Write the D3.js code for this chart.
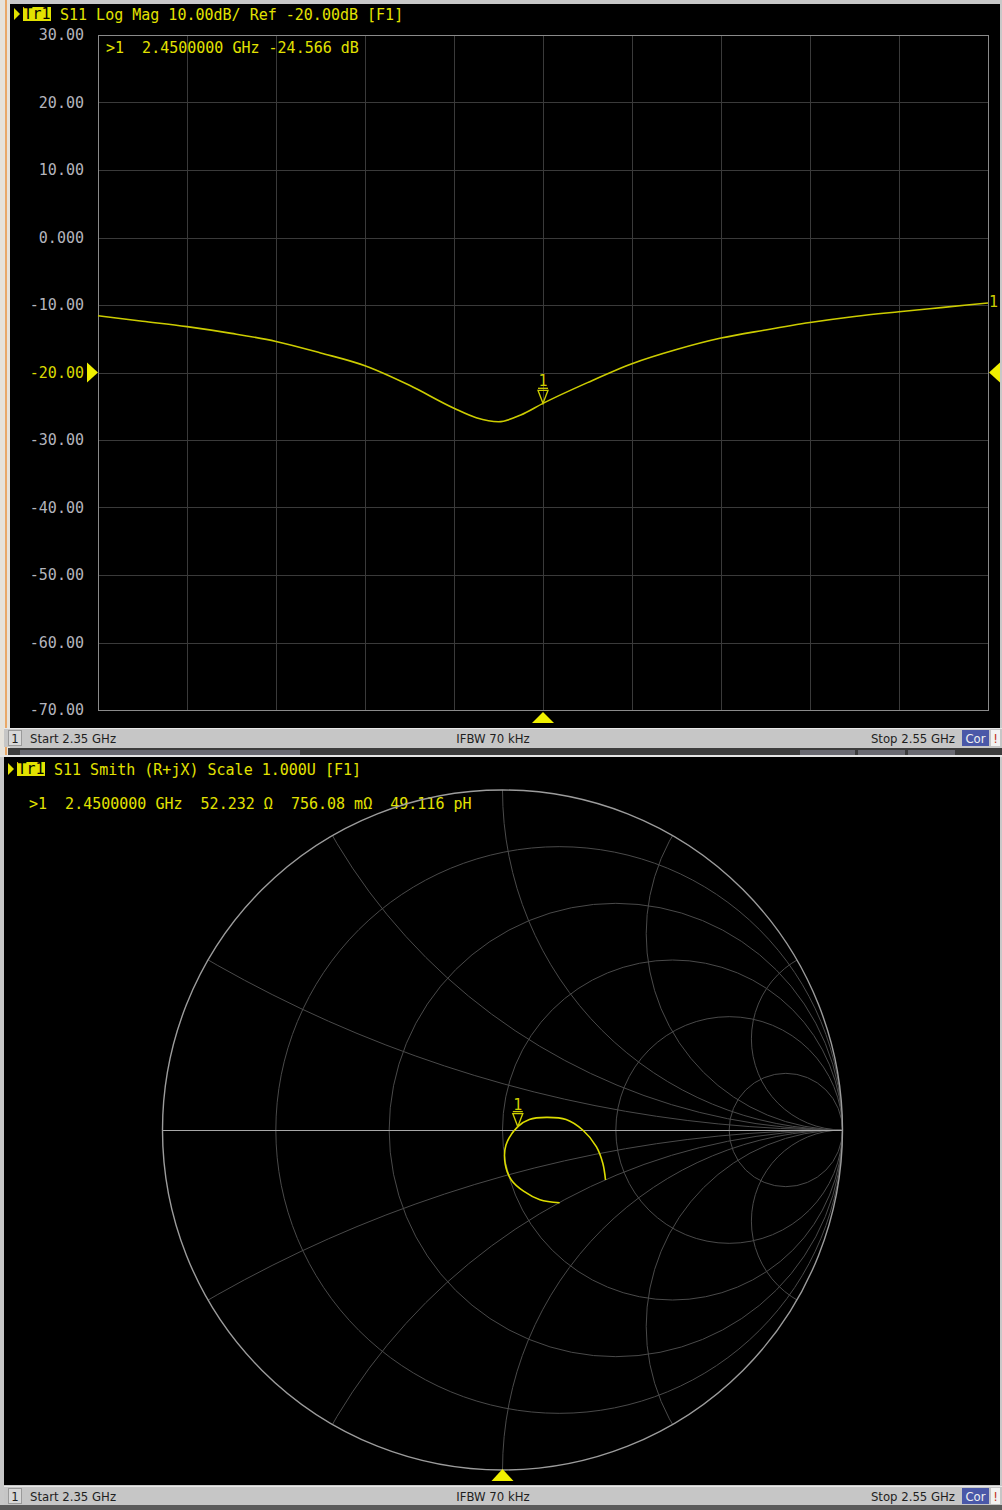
<!DOCTYPE html>
<html>
<head>
<meta charset="utf-8">
<script src="https://cdn.jsdelivr.net/npm/d3@7"></script>
<style>
  html, body { margin: 0; padding: 0; background: #c8c8c8; }
  svg { display: block; }
  .mono { font-family: "DejaVu Sans Mono", "Liberation Mono", monospace; font-size: 15px; white-space: pre; }
  .status { font-family: "Liberation Sans Narrow", "DejaVu Sans Condensed", "DejaVu Sans", sans-serif; font-stretch: condensed; font-size: 13px; fill: #1e1e1e; }
</style>
</head>
<body>
<svg id="chart" width="1002" height="1510"></svg>
<script>
// --- trace data ---
const freqGHz = [2.35, 2.36, 2.37, 2.38, 2.39, 2.40, 2.41, 2.42, 2.43, 2.435, 2.44, 2.445,
                 2.45, 2.46, 2.47, 2.48, 2.49, 2.50, 2.51, 2.52, 2.53, 2.54, 2.55];
const s11dB = [-11.6, -12.4, -13.2, -14.2, -15.4, -17.1, -19.0, -21.9, -25.3, -26.7, -27.3, -26.3,
               -24.57, -21.5, -18.7, -16.6, -14.9, -13.7, -12.6, -11.7, -11.0, -10.35, -9.7];

// smith trace (reflection coefficient, start -> stop)
const smithRe = [0.168, 0.110, 0.062, 0.026, 0.008, 0.010, 0.045, 0.079, 0.129, 0.187, 0.236, 0.276, 0.295, 0.303];
const smithIm = [-0.214, -0.205, -0.180, -0.147, -0.100, -0.045, 0.010, 0.031, 0.037, 0.031, 0.000, -0.049, -0.098, -0.147];

// axes / grid
const dbTicks = [30, 20, 10, 0, -10, -20, -30, -40, -50, -60, -70];
const freqGrid = [2.35, 2.37, 2.39, 2.41, 2.43, 2.45, 2.47, 2.49, 2.51, 2.53, 2.55];
const refLevel = -20;
const rCircles = [0.2, 0.5, 1, 2, 5];
const xArcs = [0.268, 0.577, 1, 1.732, 3.732];

// marker 1
const markerFreq = 2.45;
const markerDb = -24.566;
const markerGamma = [0.045, 0.010];

// texts
const topTitle = "S11 Log Mag 10.00dB/ Ref -20.00dB [F1]";
const topReadout = ">1  2.4500000 GHz -24.566 dB";
const smithTitle = "S11 Smith (R+jX) Scale 1.000U [F1]";
const smithReadout = ">1  2.4500000 GHz  52.232 Ω  756.08 mΩ  49.116 pH";
const statusTexts = ["Start 2.35 GHz", "IFBW 70 kHz", "Stop 2.55 GHz"];

const YEL = "#e2e200";
const TRACE = "#cccc00";

const svg = d3.select("#chart");

// ---------- window chrome ----------
svg.append("rect").attr("width", 1002).attr("height", 1510).attr("fill", "#c8c8c8");
svg.append("rect").attr("x", 0).attr("y", 0).attr("width", 10).attr("height", 756).attr("fill", "#e6e2da");
svg.append("rect").attr("x", 5).attr("y", 0).attr("width", 2).attr("height", 756).attr("fill", "#e9a868");
svg.append("rect").attr("x", 10).attr("y", 4).attr("width", 990).attr("height", 724).attr("fill", "#000");

// dark band between windows
svg.append("rect").attr("x", 8).attr("y", 748).attr("width", 994).attr("height", 8).attr("fill", "#3c3c3c");
[[20, 300], [800, 855], [858, 905], [908, 955]].forEach(t => {
  svg.append("rect").attr("x", t[0]).attr("y", 750).attr("width", t[1] - t[0]).attr("height", 5).attr("fill", "#6a6a72");
});
svg.append("rect").attr("x", 0).attr("y", 755).attr("width", 1002).attr("height", 2).attr("fill", "#e6e6e6");
svg.append("rect").attr("x", 4).attr("y", 757).attr("width", 996).attr("height", 728).attr("fill", "#000");
svg.append("rect").attr("x", 0).attr("y", 1505).attr("width", 1002).attr("height", 5).attr("fill", "#5a5a5a");

function statusBar(y) {
  const g = svg.append("g").attr("transform", `translate(0,${y})`);
  g.append("rect").attr("x", 4).attr("y", 0).attr("width", 998).attr("height", 19).attr("fill", "#c6c6c6");
  g.append("line").attr("x1", 4).attr("x2", 1002).attr("y1", 0.5).attr("y2", 0.5).attr("stroke", "#e8e8e8");
  g.append("rect").attr("x", 8.5).attr("y", 2.5).attr("width", 13).attr("height", 15)
    .attr("fill", "#d8d8d8").attr("stroke", "#9a9a9a");
  g.append("text").attr("class", "status").attr("x", 15).attr("y", 14.5).attr("text-anchor", "middle").text("1");
  g.append("text").attr("class", "status").attr("x", 30).attr("y", 14.5).text(statusTexts[0]);
  g.append("text").attr("class", "status").attr("x", 493).attr("y", 14.5).attr("text-anchor", "middle").text(statusTexts[1]);
  g.append("text").attr("class", "status").attr("x", 955).attr("y", 14.5).attr("text-anchor", "end").text(statusTexts[2]);
  g.append("rect").attr("x", 962).attr("y", 2).attr("width", 27).attr("height", 16).attr("fill", "#4a58a8");
  g.append("text").attr("class", "status").attr("x", 975.5).attr("y", 14.5).attr("text-anchor", "middle")
    .style("fill", "#f0f0f0").text("Cor");
  g.append("rect").attr("x", 991).attr("y", 2).attr("width", 9).attr("height", 16).attr("fill", "#f2f2f2");
  g.append("text").attr("class", "status").attr("x", 995.5).attr("y", 14.5).attr("text-anchor", "middle")
    .style("fill", "#c03020").text("!");
}
statusBar(728);
statusBar(1486);

function header(x, y, title) {
  svg.append("path").attr("d", `M${x},${y - 12} L${x + 6},${y - 6} L${x},${y} Z`).attr("fill", YEL);
  svg.append("rect").attr("x", x + 9).attr("y", y - 13).attr("width", 28).attr("height", 14).attr("fill", YEL);
  svg.append("text").attr("class", "mono").attr("x", x + 23).attr("y", y - 1).attr("text-anchor", "middle")
    .attr("fill", "#000").text("Tr1");
  svg.append("text").attr("class", "mono").attr("x", x + 46).attr("y", y).attr("fill", YEL).text(title);
}

// ---------- top: log magnitude ----------
const plot = { left: 98, right: 988, top: 35, bottom: 710 };
const x = d3.scaleLinear().domain([2.35, 2.55]).range([plot.left, plot.right]);
const y = d3.scaleLinear().domain([-70, 30]).range([plot.bottom, plot.top]);

header(14, 20, topTitle);

const grid = svg.append("g").attr("stroke", "#3a3a3a").attr("stroke-width", 1);
grid.selectAll(".vg").data(freqGrid).join("line")
  .attr("x1", d => Math.round(x(d)) + 0.5).attr("x2", d => Math.round(x(d)) + 0.5)
  .attr("y1", plot.top).attr("y2", plot.bottom);
grid.selectAll(".hg").data(dbTicks).join("line")
  .attr("x1", plot.left).attr("x2", plot.right)
  .attr("y1", d => Math.round(y(d)) + 0.5).attr("y2", d => Math.round(y(d)) + 0.5);

svg.append("rect").attr("x", plot.left + 0.5).attr("y", plot.top + 0.5)
  .attr("width", plot.right - plot.left).attr("height", plot.bottom - plot.top)
  .attr("fill", "none").attr("stroke", "#8a8a8a");

const yAxis = d3.axisLeft(y).tickValues(dbTicks).tickSize(0).tickPadding(0)
  .tickFormat(d => d === 0 ? "0.000" : d.toFixed(2));
const yg = svg.append("g").attr("transform", "translate(84,0)").call(yAxis);
yg.select(".domain").remove();
yg.selectAll("text").attr("class", "mono").attr("font-size", null).attr("font-family", null)
  .attr("fill", d => d === refLevel ? "#d8d800" : "#b4b4bc");

svg.append("text").attr("class", "mono").attr("x", 106).attr("y", 53).attr("fill", YEL).text(topReadout);

const magLine = d3.line()
  .x((d, i) => x(freqGHz[i]))
  .y(d => y(d))
  .curve(d3.curveMonotoneX);
svg.append("path").datum(s11dB).attr("d", magLine)
  .attr("fill", "none").attr("stroke", TRACE).attr("stroke-width", 1.6);

// reference level arrows and stimulus marker arrow
const ry = y(refLevel);
svg.append("path").attr("d", `M87,${ry - 10} L98,${ry} L87,${ry + 10} Z`).attr("fill", "#f0f000");
svg.append("path").attr("d", `M1000,${ry - 10} L989,${ry} L1000,${ry + 10} Z`).attr("fill", "#f0f000");
const mx = x(markerFreq);
svg.append("path").attr("d", `M${mx - 11},723 L${mx},712 L${mx + 11},723 Z`).attr("fill", "#f0f000");
svg.append("text").attr("class", "mono").attr("x", 989).attr("y", y(s11dB[s11dB.length - 1]) + 4)
  .attr("fill", TRACE).attr("font-size", "14px").text("1");

function markerGlyph(px, py) {
  const g = svg.append("g").attr("fill", "none").attr("stroke", TRACE).attr("stroke-width", 1.3);
  g.append("path").attr("d", `M${px - 5},${py - 13} L${px + 5},${py - 13} L${px},${py} Z`);
  g.append("line").attr("x1", px - 5).attr("x2", px + 5).attr("y1", py - 15).attr("y2", py - 15);
  svg.append("text").attr("class", "mono").attr("x", px).attr("y", py - 17).attr("text-anchor", "middle")
    .attr("font-size", "13px").attr("fill", TRACE).text("1");
}
markerGlyph(mx, y(markerDb));

// ---------- bottom: smith chart ----------
header(8, 775, smithTitle);
svg.append("text").attr("class", "mono").attr("x", 29).attr("y", 809).attr("fill", YEL).text(smithReadout);

const cx = 502.5, cy = 1130, R = 340;
const gx = d3.scaleLinear().domain([-1, 1]).range([cx - R, cx + R]);
const gy = d3.scaleLinear().domain([-1, 1]).range([cy + R, cy - R]);
const k = R; // pixels per unit of gamma

svg.append("clipPath").attr("id", "unit").append("circle").attr("cx", cx).attr("cy", cy).attr("r", R);
const sg = svg.append("g").attr("clip-path", "url(#unit)").attr("fill", "none")
  .attr("stroke", "#4a4a4a").attr("stroke-width", 1);

sg.selectAll(".rc").data(rCircles).join("circle")
  .attr("cx", d => gx(d / (1 + d))).attr("cy", gy(0)).attr("r", d => k / (1 + d));
sg.selectAll(".xp").data(xArcs).join("circle")
  .attr("cx", gx(1)).attr("cy", d => gy(1 / d)).attr("r", d => k / d);
sg.selectAll(".xn").data(xArcs).join("circle")
  .attr("cx", gx(1)).attr("cy", d => gy(-1 / d)).attr("r", d => k / d);

svg.append("line").attr("x1", gx(-1)).attr("x2", gx(1)).attr("y1", gy(0) + 0.5).attr("y2", gy(0) + 0.5)
  .attr("stroke", "#a8a8a8").attr("stroke-width", 1.2);
svg.append("circle").attr("cx", cx).attr("cy", cy).attr("r", R)
  .attr("fill", "none").attr("stroke", "#9c9c9c").attr("stroke-width", 1.4);

const smithLine = d3.line()
  .x((d, i) => gx(smithRe[i]))
  .y(d => gy(d))
  .curve(d3.curveCatmullRom);
svg.append("path").datum(smithIm).attr("d", smithLine)
  .attr("fill", "none").attr("stroke", "#dcdc00").attr("stroke-width", 1.6);

markerGlyph(gx(markerGamma[0]), gy(markerGamma[1]));

svg.append("path").attr("d", `M${cx - 11},1481 L${cx},1469 L${cx + 11},1481 Z`).attr("fill", "#f0f000");
</script>
</body>
</html>
